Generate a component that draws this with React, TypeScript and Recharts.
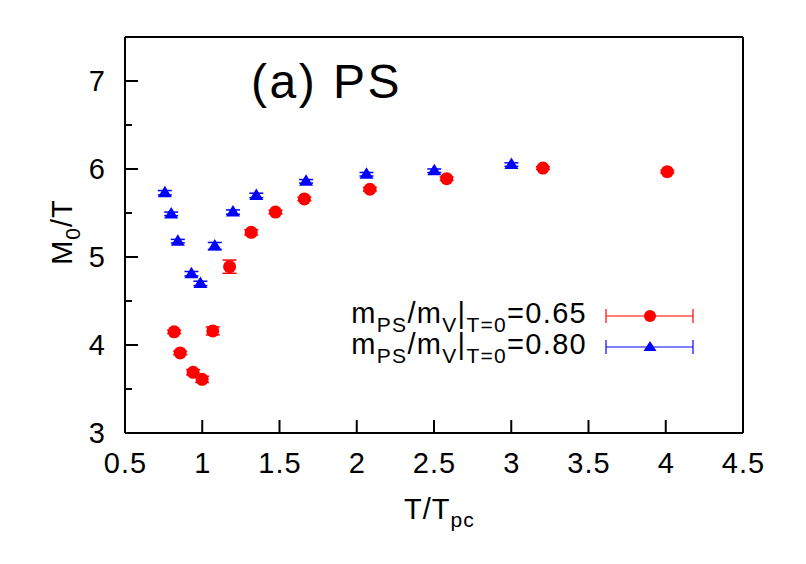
import React from 'react';
import { ScatterChart, Scatter, XAxis, YAxis, ErrorBar, Legend } from 'recharts';

// T/Tpc and M0/T, mPS/mV = 0.65 (red) and 0.80 (blue)
const tRed = [0.818, 0.857, 0.941, 0.999, 1.068, 1.177, 1.317, 1.474, 1.661, 2.085, 2.582, 3.205, 4.01];
const mRed = [4.15, 3.91, 3.69, 3.61, 4.16, 4.89, 5.28, 5.51, 5.66, 5.77, 5.89, 6.01, 5.97];
const eRed = [0.02, 0.02, 0.03, 0.035, 0.045, 0.075, 0.03, 0.02, 0.02, 0.02, 0.02, 0.015, 0.015];

const tBlue = [0.758, 0.799, 0.842, 0.93, 0.988, 1.081, 1.199, 1.35, 1.672, 2.063, 2.502, 3.001];
const mBlue = [5.73, 5.49, 5.18, 4.81, 4.7, 5.125, 5.51, 5.7, 5.86, 5.94, 5.98, 6.05];
const eBlue = [0.025, 0.02, 0.02, 0.025, 0.025, 0.04, 0.025, 0.025, 0.02, 0.02, 0.02, 0.02];

const xTicks = [0.5, 1, 1.5, 2, 2.5, 3, 3.5, 4, 4.5];
const yTicks = [3, 3.5, 4, 4.5, 5, 5.5, 6, 6.5, 7, 7.5];

const redData = tRed.map((t, i) => ({ t, m: mRed[i], err: eRed[i] }));
const blueData = tBlue.map((t, i) => ({ t, m: mBlue[i], err: eBlue[i] }));

const FONT = '"Liberation Sans", Arial, sans-serif';
const RED = '#ff0000';
const BLUE = '#0000ff';

const BottomTick = (props: any) => {
  const { x, y, payload } = props;
  return (
    <g>
      <line x1={x} x2={x} y1={y} y2={y - 13} stroke="#000" strokeWidth={2} />
      <text x={x + 0.5} y={y + 40} textAnchor="middle" fontSize={29} letterSpacing={1} fontFamily={FONT} fill="#000">
        {payload.value}
      </text>
    </g>
  );
};

const TopTick = (props: any) => {
  const { x, y } = props;
  return <line x1={x} x2={x} y1={y} y2={y + 13} stroke="#000" strokeWidth={2} />;
};

const LeftTick = (props: any) => {
  const { x, y, payload } = props;
  const v = payload.value;
  const major = Number.isInteger(v);
  return (
    <g>
      <line x1={x} x2={x + (major ? 13 : 7)} y1={y} y2={y} stroke="#000" strokeWidth={2} />
      {major && (
        <text x={x - 20} y={y + 10} textAnchor="end" fontSize={29} fontFamily={FONT} fill="#000">
          {v}
        </text>
      )}
    </g>
  );
};

const RightTick = (props: any) => {
  const { x, y, payload } = props;
  const major = Number.isInteger(payload.value);
  return <line x1={x} x2={x - (major ? 13 : 7)} y1={y} y2={y} stroke="#000" strokeWidth={2} />;
};

const Circle = (props: any) => <circle cx={props.cx} cy={props.cy} r={6.5} fill={RED} />;
const Triangle = (props: any) => {
  const { cx, cy } = props;
  return <polygon points={`${cx},${cy - 7} ${cx - 7},${cy + 4.5} ${cx + 7},${cy + 4.5}`} fill={BLUE} />;
};

const XLabel = () => (
  <text x={404} y={519} fontSize={29} letterSpacing={1} fontFamily={FONT} fill="#000">
    T/T<tspan dy={8} fontSize={21}>pc</tspan>
  </text>
);

const YLabel = () => (
  <text transform="translate(72,232) rotate(-90)" textAnchor="middle" fontSize={29} letterSpacing={1} fontFamily={FONT} fill="#000">
    M<tspan dy={8} fontSize={21}>0</tspan>
    <tspan dy={-8}>/T</tspan>
  </text>
);

const Title = () => (
  <text x={251} y={98} fontSize={48} letterSpacing={2.5} fontFamily={FONT} fill="#000">
    (a) PS
  </text>
);

const legendRows = [
  { label: '0.65', color: RED, y: 316, kind: 'circle' },
  { label: '0.80', color: BLUE, y: 347, kind: 'triangle' },
];

const renderLegend = () => (
  <svg width={806} height={564} style={{ position: 'absolute', left: 0, top: 0, pointerEvents: 'none' }}>
    {legendRows.map((r) => (
      <g key={r.label}>
        <text x={587} y={r.y + 7} textAnchor="end" fontSize={29} letterSpacing={1.3} fontFamily={FONT} fill="#000">
          m<tspan dy={9} fontSize={21}>PS</tspan>
          <tspan dy={-9}>/m</tspan>
          <tspan dy={9} fontSize={21}>V</tspan>
          <tspan dy={-9}>|</tspan>
          <tspan dy={9} fontSize={21}>T=0</tspan>
          <tspan dy={-9}>={r.label}</tspan>
        </text>
        <line x1={606} x2={693} y1={r.y} y2={r.y} stroke={r.color} strokeWidth={1.2} />
        <line x1={606} x2={606} y1={r.y - 7} y2={r.y + 7} stroke={r.color} strokeWidth={1.2} />
        <line x1={693} x2={693} y1={r.y - 7} y2={r.y + 7} stroke={r.color} strokeWidth={1.2} />
        {r.kind === 'circle' ? (
          <circle cx={650} cy={r.y} r={6} fill={r.color} />
        ) : (
          <polygon points={`650,${r.y - 6} 643.5,${r.y + 4} 656.5,${r.y + 4}`} fill={r.color} />
        )}
      </g>
    ))}
  </svg>
);

export default function App() {
  return (
    <div style={{ position: 'absolute', left: 0, top: 0, width: 806, height: 564, background: '#fff' }}>
      <ScatterChart width={806} height={564} margin={{ top: 36, right: 62, bottom: 130, left: 124 }}>
        <XAxis
          xAxisId="b"
          dataKey="t"
          type="number"
          domain={[0.5, 4.5]}
          ticks={xTicks}
          interval={0}
          height={1}
          tickSize={0}
          tickMargin={0}
          tickLine={false}
          tick={<BottomTick />}
          axisLine={{ stroke: '#000', strokeWidth: 2 }}
          label={<XLabel />}
        />
        <XAxis
          xAxisId="t"
          orientation="top"
          type="number"
          domain={[0.5, 4.5]}
          ticks={xTicks}
          interval={0}
          height={1}
          tickSize={0}
          tickMargin={0}
          tickLine={false}
          tick={<TopTick />}
          axisLine={{ stroke: '#000', strokeWidth: 2 }}
          label={<Title />}
        />
        <YAxis
          yAxisId="l"
          dataKey="m"
          type="number"
          domain={[3, 7.5]}
          ticks={yTicks}
          interval={0}
          width={1}
          tickSize={0}
          tickMargin={0}
          tickLine={false}
          tick={<LeftTick />}
          axisLine={{ stroke: '#000', strokeWidth: 2 }}
          label={<YLabel />}
        />
        <YAxis
          yAxisId="r"
          orientation="right"
          type="number"
          domain={[3, 7.5]}
          ticks={yTicks}
          interval={0}
          width={1}
          tickSize={0}
          tickMargin={0}
          tickLine={false}
          tick={<RightTick />}
          axisLine={{ stroke: '#000', strokeWidth: 2 }}
        />
        <Legend layout="vertical" align="center" verticalAlign="middle" wrapperStyle={{ left: 0, top: 0 }} content={renderLegend} />
        <Scatter name="0.65" data={redData} xAxisId="b" yAxisId="l" shape={<Circle />} fill={RED} isAnimationActive={false}>
          <ErrorBar dataKey="err" direction="y" width={7} stroke={RED} strokeWidth={1.5} isAnimationActive={false} />
        </Scatter>
        <Scatter name="0.80" data={blueData} xAxisId="b" yAxisId="l" shape={<Triangle />} fill={BLUE} isAnimationActive={false}>
          <ErrorBar dataKey="err" direction="y" width={7} stroke={BLUE} strokeWidth={1.5} isAnimationActive={false} />
        </Scatter>
      </ScatterChart>
    </div>
  );
}
